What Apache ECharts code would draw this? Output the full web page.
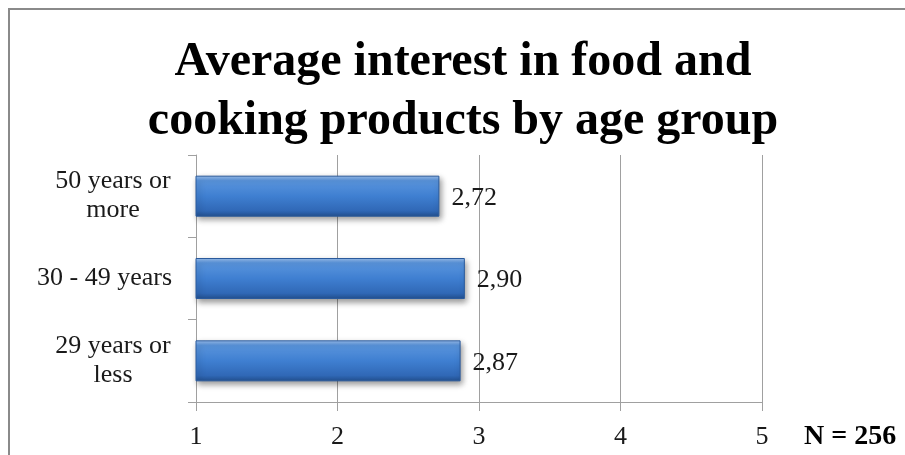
<!DOCTYPE html>
<html>
<head>
<meta charset="utf-8">
<script src="https://cdn.jsdelivr.net/npm/echarts@6/dist/echarts.min.js"></script>
<style>
  html, body { margin: 0; padding: 0; background: #fff; }
  #chart { width: 905px; height: 455px; }
</style>
</head>
<body>
<div id="chart"></div>
<script>
// Age groups, bottom to top on the category axis
var categories = ['29 years or\nless', '30 - 49 years', '50 years or\nmore'];
// Average interest score per group
var values = [2.87, 2.90, 2.72];
// Value axis ticks
var tickValues = [1, 2, 3, 4, 5];
var titleText = 'Average interest in food and\ncooking products by age group';
var sampleNote = 'N = 256';

var serif = '"Liberation Serif", "DejaVu Serif", serif';

var chart = echarts.init(document.getElementById('chart'));

var barFill = new echarts.graphic.LinearGradient(0, 0, 0, 1, [
  { offset: 0, color: '#9cc0ee' },
  { offset: 0.12, color: '#5a95dd' },
  { offset: 0.5, color: '#3f7fd1' },
  { offset: 0.86, color: '#3068b6' },
  { offset: 1, color: '#22508f' }
]);

chart.setOption({
  animation: false,
  graphic: [
    {
      type: 'rect',
      shape: { x: 9, y: 9, width: 920, height: 470 },
      style: { fill: 'none', stroke: '#8a8a8a', lineWidth: 2 },
      silent: true
    },
    {
      type: 'text',
      x: 463,
      y: 92,
      style: {
        text: titleText,
        font: 'bold 48px ' + serif,
        lineHeight: 59,
        align: 'center',
        verticalAlign: 'middle',
        fill: '#000'
      }
    },
    {
      type: 'text',
      x: 804,
      y: 437,
      style: {
        text: sampleNote,
        font: 'bold 28px ' + serif,
        verticalAlign: 'middle',
        fill: '#000'
      }
    }
  ],
  grid: { left: 196, right: 143, top: 155, bottom: 53, containLabel: false },
  xAxis: {
    type: 'value',
    min: tickValues[0],
    max: tickValues[tickValues.length - 1],
    interval: 1,
    axisLine: { show: true, lineStyle: { color: '#a0a0a0', width: 1 } },
    axisTick: { show: true, length: 9, lineStyle: { color: '#a0a0a0' } },
    splitLine: { show: true, lineStyle: { color: '#a0a0a0', width: 1 } },
    axisLabel: {
      margin: 22,
      fontFamily: serif,
      fontSize: 26,
      color: '#1a1a1a'
    }
  },
  yAxis: {
    type: 'category',
    data: categories,
    axisLine: { show: true, lineStyle: { color: '#a0a0a0', width: 1 } },
    axisTick: { show: true, length: 8, lineStyle: { color: '#a0a0a0' } },
    axisLabel: {
      margin: 24,
      fontFamily: serif,
      fontSize: 26,
      color: '#1a1a1a',
      formatter: function (v) {
        var lines = v.split('\n');
        if (lines.length === 1) return '{s|' + v + '}';
        return lines.map(function (l) { return '{m|' + l + '}'; }).join('\n');
      },
      rich: {
        s: { fontFamily: serif, fontSize: 26, color: '#1a1a1a', lineHeight: 29 },
        m: { fontFamily: serif, fontSize: 26, color: '#1a1a1a', width: 118, align: 'center', lineHeight: 29 }
      }
    }
  },
  series: [{
    type: 'bar',
    data: values,
    barWidth: 41,
    itemStyle: {
      color: barFill,
      borderColor: '#2a5a9c',
      borderWidth: 1,
      shadowBlur: 6,
      shadowOffsetX: 2,
      shadowOffsetY: 3,
      shadowColor: 'rgba(0,0,0,0.4)'
    },
    label: {
      show: true,
      position: 'right',
      distance: 12,
      offset: [0, 2],
      fontFamily: serif,
      fontSize: 26,
      color: '#1a1a1a',
      formatter: function (p) { return p.value.toFixed(2).replace('.', ','); }
    }
  }]
});
</script>
</body>
</html>
